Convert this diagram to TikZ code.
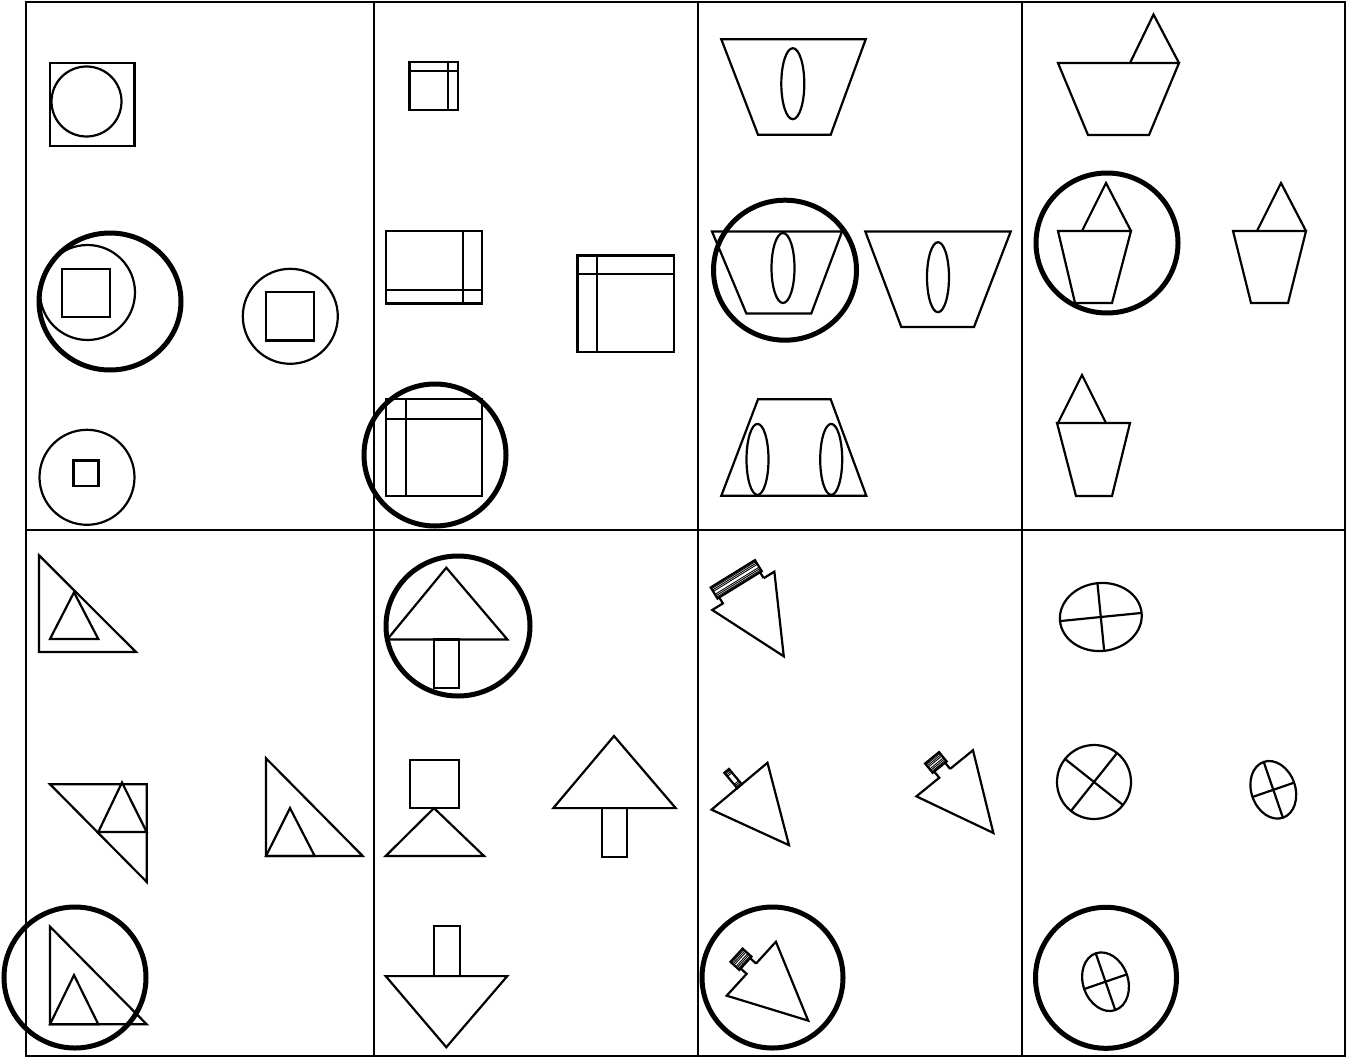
\documentclass[tikz,border=0pt]{standalone}
\newcommand{\tagtri}[5]{%
  % #1 middle of base, #2 angle, #3 neck half width, #4 block half width, #5 neck height
  \begin{scope}[shift={(#1)},rotate=#2]
    \draw[fig] (#3,0) -- (36.5,0) -- (0,77) -- (-36.5,0) -- (-#3,0) -- (-#3,-#5);
    \draw[fig] (#3,0) -- (#3,-#5);
    \draw[fig] (-#4,-#5) rectangle (#4,-20);
    \foreach \k in {1.6,3.2,4.8} {
      \draw[hatch] (-#4,-20+\k) -- (#4,-20+\k);
      \draw[hatch] (-#4,-#5-\k) -- (#4,-#5-\k);
    }
  \end{scope}}
\begin{document}
\begin{tikzpicture}[x=1pt,y=-1pt,
  fig/.style={line width=2.2pt},
  ring/.style={line width=5pt},
  frame/.style={line width=2pt},
  hatch/.style={line width=0.9pt}]
  \useasboundingbox (0,0) rectangle (1346,1057);
  % frame
  \draw[frame] (26,2.5) rectangle (1345,1056);
  \draw[frame] (26,530) -- (1345,530);
  \foreach \x in {374,698,1022} \draw[frame] (\x,2.5) -- (\x,1056);
  % panel 1: circles and squares
  \draw[fig] (50,63) rectangle (134.5,146);
  \draw[fig] (86.5,101.5) circle (35);
  \draw[ring] (110,301.5) ellipse [x radius=71, y radius=68.5];
  \draw[fig] (87.5,292.5) circle (47.5);
  \draw[fig] (62,269) rectangle (110,317);
  \draw[fig] (290.3,316.3) circle (47.5);
  \draw[fig] (266,292) rectangle (314,340.5);
  \draw[fig] (87,477.3) circle (47.5);
  \draw[fig] (73.5,460.5) rectangle (98.5,486);
  % panel 2: squares with two strips
  \draw[fig] (409.5,62) rectangle (458,110);
  \draw[fig] (409.5,71) -- (458,71);
  \draw[fig] (448,62) -- (448,110);
  \draw[fig] (386,231) rectangle (482.3,303.5);
  \draw[fig] (386,290) -- (482.3,290);
  \draw[fig] (463,231) -- (463,303.5);
  \draw[fig] (577.5,255.5) rectangle (674,352);
  \draw[fig] (577.5,274) -- (674,274);
  \draw[fig] (596.7,255.5) -- (596.7,352);
  \draw[ring] (435,455) circle (71);
  \draw[fig] (386.3,399.3) rectangle (482.3,495.8);
  \draw[fig] (386.3,419) -- (482.3,419);
  \draw[fig] (405.7,399.3) -- (405.7,495.8);
  % panel 3: trapezia with ovals
  \draw[fig] (721.3,39.3) -- (865.7,39.3) -- (830.7,134.7) -- (758,134.7) -- cycle;
  \draw[fig] (792.8,83.7) ellipse [x radius=11.5, y radius=35.5];
  \draw[ring] (785,270.2) ellipse [x radius=71.5, y radius=70];
  \draw[fig] (712,231.5) -- (842,231.5) -- (811.3,313.4) -- (746.3,313.4) -- cycle;
  \draw[fig] (783,268) ellipse [x radius=11.5, y radius=35];
  \draw[fig] (865.3,231.5) -- (1010.7,231.5) -- (974,327) -- (901.3,327) -- cycle;
  \draw[fig] (938,277.2) ellipse [x radius=11, y radius=35];
  \draw[fig] (758,399.3) -- (830.7,399.3) -- (866.3,495.8) -- (721.3,495.8) -- cycle;
  \draw[fig] (757.5,459.4) ellipse [x radius=11, y radius=35.5];
  \draw[fig] (831.2,459.4) ellipse [x radius=11, y radius=35.5];
  % panel 4: cups with a triangle
  \draw[fig] (1058,63) -- (1179,63) -- (1149,135) -- (1088,135) -- cycle;
  \draw[fig] (1130,63) -- (1153.5,14.5) -- (1179,63);
  \draw[ring] (1107,243) ellipse [x radius=71, y radius=70];
  \draw[fig] (1058,231) -- (1131,231) -- (1112,303) -- (1075,303) -- cycle;
  \draw[fig] (1082,231) -- (1106,183) -- (1131,231);
  \draw[fig] (1233,231) -- (1306,231) -- (1288,303) -- (1251,303) -- cycle;
  \draw[fig] (1257,231) -- (1281,183) -- (1306,231);
  \draw[fig] (1057,423) -- (1130,423) -- (1112,496) -- (1076,496) -- cycle;
  \draw[fig] (1058,423) -- (1082,375) -- (1106,423);
  % panel 5: right triangles
  \draw[fig] (39,555.3) -- (39,652) -- (136,652) -- cycle;
  \draw[fig] (74,592.3) -- (50,639) -- (98.3,639) -- cycle;
  \draw[fig] (50,784.2) -- (146.7,784.2) -- (146.7,881.9) -- cycle;
  \draw[fig] (122,782.5) -- (98.3,832) -- (146.7,832) -- cycle;
  \draw[fig] (266,758.3) -- (266,856) -- (362.7,856) -- cycle;
  \draw[fig] (290,808.1) -- (266,856) -- (314.7,856) -- cycle;
  \draw[ring] (75,977.5) ellipse [x radius=71, y radius=70.5];
  \draw[fig] (50,926.6) -- (50,1024.3) -- (146.7,1024.3) -- cycle;
  \draw[fig] (74,975.1) -- (50,1024.3) -- (98.3,1024.3) -- cycle;
  % panel 6: triangles with a stem
  \draw[ring] (458,626) ellipse [x radius=72, y radius=70];
  \draw[fig] (446.3,567.7) -- (387.3,639.4) -- (507.3,639.4) -- cycle;
  \draw[fig] (434,639.4) rectangle (458.7,687.6);
  \draw[fig] (409.7,760) rectangle (458.7,808.1);
  \draw[fig] (434,808.1) -- (385.7,856) -- (484,856) -- cycle;
  \draw[fig] (614,736) -- (553.3,808.1) -- (675.7,808.1) -- cycle;
  \draw[fig] (601.7,808.1) rectangle (627.3,857.3);
  \draw[fig] (434,926) rectangle (459.7,976.1);
  \draw[fig] (385.7,976.1) -- (507.3,976.1) -- (446.3,1047.2) -- cycle;
  % panel 7: triangles with a hatched tab
  \tagtri{743.3,590.8}{31.7}{24}{26}{7}
  \tagtri{739.5,786.2}{40}{0}{3}{0}
  \tagtri{944.7,773.3}{39.2}{7}{9}{8}
  \draw[ring] (772.5,977.5) circle (70.5);
  \tagtri{751.3,968.7}{47.6}{7}{9}{8}
  % panel 8: ovals with a cross
  \begin{scope}[shift={(1100.8,617)},rotate=5.7]
    \draw[fig] (0,0) ellipse [x radius=41, y radius=34];
    \draw[fig] (-41,0) -- (41,0);
    \draw[fig] (0,-34) -- (0,34);
  \end{scope}
  \begin{scope}[shift={(1094,782)},rotate=-38.5]
    \draw[fig] (0,0) circle (37);
    \draw[fig] (-37,0) -- (37,0);
    \draw[fig] (0,-37) -- (0,37);
  \end{scope}
  \begin{scope}[shift={(1273.3,789.8)},rotate=19]
    \draw[fig] (0,0) ellipse [x radius=22, y radius=29.5];
    \draw[fig] (-22,0) -- (22,0);
    \draw[fig] (0,-29.5) -- (0,29.5);
  \end{scope}
  \draw[ring] (1106,977.8) circle (70.5);
  \begin{scope}[shift={(1105.5,981.7)},rotate=19]
    \draw[fig] (0,0) ellipse [x radius=22.5, y radius=30];
    \draw[fig] (-22.5,0) -- (22.5,0);
    \draw[fig] (0,-30) -- (0,30);
  \end{scope}
\end{tikzpicture}
\end{document}
